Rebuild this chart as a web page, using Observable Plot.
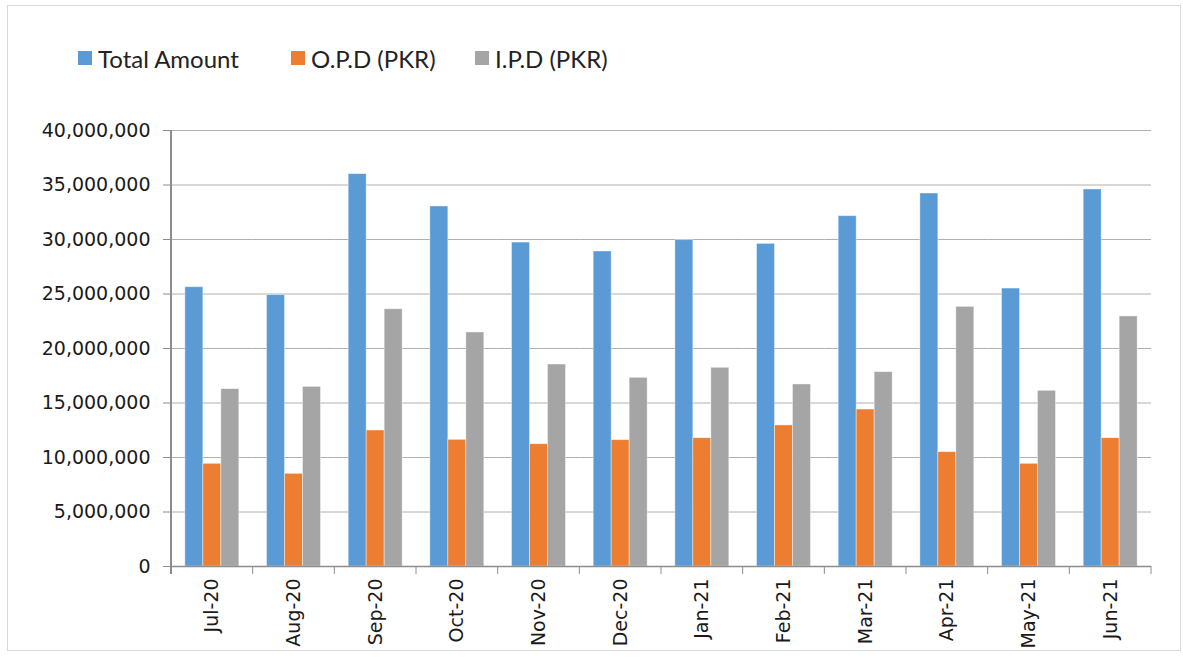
<!DOCTYPE html>
<html>
<head>
<meta charset="utf-8">
<script src="https://cdn.jsdelivr.net/npm/d3@7"></script>
<script src="https://cdn.jsdelivr.net/npm/@observablehq/plot@0.6"></script>
<style>
  html, body { margin: 0; padding: 0; background: #fff; }
  #wrap { position: relative; width: 1183px; height: 658px; overflow: hidden; }
  #box { position: absolute; left: 7px; top: 5px; width: 1174px; height: 646px; border: 1px solid #d9d9d9; box-sizing: border-box; pointer-events: none; }
  #legend { position: relative; height: 90px; font-family: Lato, "Open Sans", sans-serif; font-size: 24px; color: #222; }
  .item { position: absolute; top: 44px; display: flex; align-items: center; height: 28px; }
  .sw { width: 14px; height: 14px; margin-right: 6px; }
  #chart svg { display: block; }
</style>
</head>
<body>
<div id="wrap">
  <div id="box"></div>
  <div id="legend"></div>
  <div id="chart"></div>
</div>
<script>
const months = ["Jul-20","Aug-20","Sep-20","Oct-20","Nov-20","Dec-20","Jan-21","Feb-21","Mar-21","Apr-21","May-21","Jun-21"];
const seriesNames = ["Total Amount", "O.P.D (PKR)", "I.P.D (PKR)"];
const seriesColors = ["#5B9BD5", "#ED7D31", "#A5A5A5"];
const totalAmount = [25620000, 24900000, 36000000, 33030000, 29720000, 28900000, 29940000, 29600000, 32140000, 34220000, 25500000, 34590000];
const opd = [9420000, 8500000, 12480000, 11620000, 11220000, 11590000, 11770000, 12940000, 14400000, 10490000, 9420000, 11770000];
const ipd = [16270000, 16480000, 23600000, 21470000, 18530000, 17310000, 18230000, 16700000, 17830000, 23820000, 16120000, 22940000];
const yTicks = [0, 5000000, 10000000, 15000000, 20000000, 25000000, 30000000, 35000000, 40000000];

const seriesValues = [totalAmount, opd, ipd];
const rows = [];
months.forEach((m, i) => seriesNames.forEach((s, k) => rows.push({month: m, series: s, value: seriesValues[k][i]})));

// Legend
const legendX = [78, 291, 475];
const legend = document.getElementById("legend");
seriesNames.forEach((s, k) => {
  const it = document.createElement("div");
  it.className = "item";
  it.style.left = legendX[k] + "px";
  it.innerHTML = `<span class="sw" style="background:${seriesColors[k]}"></span><span>${s}</span>`;
  legend.appendChild(it);
});

const textFont = "'DejaVu Sans', Verdana, sans-serif";
const chart = Plot.plot({
  width: 1183,
  height: 568,
  marginTop: 40,
  marginBottom: 92,
  marginLeft: 171,
  marginRight: 32,
  style: {fontFamily: textFont, fontSize: "19px", color: "#1a1a1a", background: "transparent"},
  fx: {domain: months, padding: 0, round: false, label: null},
  x: {domain: seriesNames, paddingInner: 0, paddingOuter: 0.77, round: false, axis: null},
  y: {domain: [0, 40000000], label: null},
  color: {domain: seriesNames, range: seriesColors},
  marks: [
    Plot.ruleY(yTicks.filter(d => d > 0), {stroke: "#b0b0b0", strokeWidth: 1}),
    Plot.barY(rows, {fx: "month", x: "series", y: "value", fill: "series", stroke: "#ffffff", strokeOpacity: 0.5, strokeWidth: 0.8}),
    Plot.ruleY([0], {stroke: "#8c8c8c", strokeWidth: 1.5}),
    Plot.axisY({ticks: yTicks, tickFormat: d3.format(","), tickSize: 8, tickPadding: 13, stroke: "#8c8c8c", label: null}),
    Plot.axisFx({anchor: "bottom", tickSize: 0, tickPadding: 12, tickRotate: -90, label: null})
  ]
});
document.getElementById("chart").appendChild(chart);

// Category boundary ticks and left axis line, placed with the plot's own scales
const fx = chart.scale("fx");
const ys = chart.scale("y");
const svg = d3.select(chart);
const bounds = months.map(m => fx.apply(m)).concat([fx.apply(months[months.length - 1]) + fx.bandwidth]);
const y0 = ys.apply(0), yTop = ys.apply(40000000);
svg.append("g").selectAll("line").data(bounds).join("line")
  .attr("x1", d => d).attr("x2", d => d)
  .attr("y1", y0).attr("y2", y0 + 8)
  .attr("stroke", "#8c8c8c").attr("stroke-width", 1);
svg.append("line")
  .attr("x1", bounds[0]).attr("x2", bounds[0])
  .attr("y1", yTop).attr("y2", y0 + 8)
  .attr("stroke", "#8c8c8c").attr("stroke-width", 2);
</script>
</body>
</html>
